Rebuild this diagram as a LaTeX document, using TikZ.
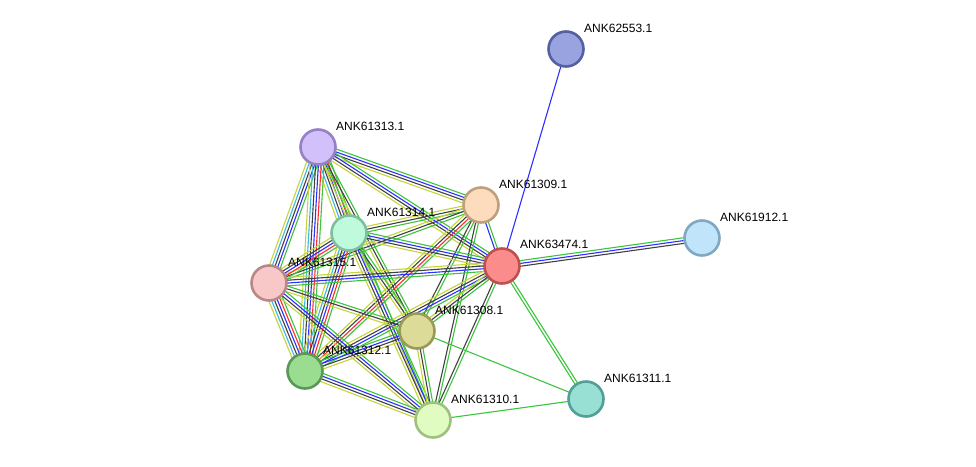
\documentclass[tikz,border=0pt]{standalone}
\usepackage{fontspec}
\setmainfont{Liberation Sans}
\usetikzlibrary{calc}
\pgfdeclarelayer{bg}
\pgfsetlayers{bg,main}
\definecolor{eG}{HTML}{3CC43C}
\definecolor{eR}{HTML}{FF2A2A}
\definecolor{eB}{HTML}{2E2EFF}
\definecolor{eK}{HTML}{404040}
\definecolor{eC}{HTML}{3CB8E0}
\definecolor{eY}{HTML}{C4D43C}
\tikzset{
  prot/.style={circle, minimum size=35pt, inner sep=0pt, line width=2.6pt},
  lbl/.style={anchor=west, inner sep=0pt, font=\fontsize{12}{14}\selectfont, text=black},
  edg/.style={line width=1.1pt}
}
\newcommand\sedge[3]{%
  \foreach \c [count=\i] in {#3}{\xdef\ncount{\i}}%
  \foreach \c [count=\i] in {#3}{%
    \pgfmathsetmacro\off{((\ncount+1)/2-\i)*2.8}%
    \draw[edg, draw=\c] ($(#1.center)!\off pt!90:(#2.center)$) -- ($(#2.center)!\off pt!-90:(#1.center)$);
  }%
}
\begin{document}
\begin{tikzpicture}[x=1pt, y=-1pt]
\useasboundingbox (0,0) rectangle (976,466);
% nodes
\node[prot, fill={rgb,255:red,153;green,163;blue,224}, draw={rgb,255:red,85;green,96;blue,160}] (p53) at (566,49) {};
\node[prot, fill={rgb,255:red,210;green,192;blue,250}, draw={rgb,255:red,150;green,128;blue,200}] (p13) at (318,147) {};
\node[prot, fill={rgb,255:red,253;green,220;blue,190}, draw={rgb,255:red,190;green,160;blue,128}] (p09) at (481,205) {};
\node[prot, fill={rgb,255:red,192;green,250;blue,220}, draw={rgb,255:red,128;green,190;blue,160}] (p14) at (349,233) {};
\node[prot, fill={rgb,255:red,250;green,140;blue,140}, draw={rgb,255:red,190;green,80;blue,80}] (p74) at (502,266) {};
\node[prot, fill={rgb,255:red,192;green,228;blue,250}, draw={rgb,255:red,128;green,168;blue,192}] (p12b) at (702,238) {};
\node[prot, fill={rgb,255:red,248;green,200;blue,200}, draw={rgb,255:red,184;green,136;blue,136}] (p15) at (269,283) {};
\node[prot, fill={rgb,255:red,220;green,220;blue,152}, draw={rgb,255:red,154;green,154;blue,88}] (p08) at (417,331) {};
\node[prot, fill={rgb,255:red,154;green,220;blue,144}, draw={rgb,255:red,90;green,152;blue,90}] (p12) at (305,371) {};
\node[prot, fill={rgb,255:red,152;green,224;blue,212}, draw={rgb,255:red,80;green,160;blue,152}] (p11) at (586,399) {};
\node[prot, fill={rgb,255:red,224;green,252;blue,192}, draw={rgb,255:red,160;green,192;blue,128}] (p10) at (433,420) {};
% labels
\node[lbl] (l53) at (584,28) {ANK62553.1};
\node[lbl] (l13) at (336,126) {ANK61313.1};
\node[lbl] (l09) at (499,184) {ANK61309.1};
\node[lbl] (l14) at (367,212) {ANK61314.1};
\node[lbl] (l74) at (520,244) {ANK63474.1};
\node[lbl] (l12b) at (720,217) {ANK61912.1};
\node[lbl] (l15) at (288,262) {ANK61315.1};
\node[lbl] (l08) at (435,310) {ANK61308.1};
\node[lbl] (l12) at (323,350) {ANK61312.1};
\node[lbl] (l11) at (604,378) {ANK61311.1};
\node[lbl] (l10) at (451,399) {ANK61310.1};
% edges
\begin{pgfonlayer}{bg}
\sedge{p13}{p09}{eG,eB,eK,eY}
\sedge{p13}{p14}{eG,eR,eB,eK,eC,eY}
\sedge{p13}{p74}{eG,eB,eK,eY}
\sedge{p13}{p15}{eG,eB,eK,eC,eY}
\sedge{p13}{p12}{eG,eR,eB,eK,eC,eY}
\sedge{p13}{p08}{eG,eK,eY}
\sedge{p13}{p10}{eG,eY}
\sedge{p09}{p14}{eG,eK,eY}
\sedge{p09}{p74}{eG,eB}
\sedge{p09}{p15}{eG,eK,eY}
\sedge{p09}{p12}{eG,eR,eK,eY}
\sedge{p09}{p08}{eG,eK}
\sedge{p09}{p10}{eG,eK}
\sedge{p14}{p74}{eG,eB,eK,eY}
\sedge{p14}{p15}{eG,eR,eB,eK,eY}
\sedge{p14}{p12}{eG,eR,eB,eK,eC,eY}
\sedge{p14}{p08}{eG,eK,eY}
\sedge{p14}{p10}{eG,eB,eK,eY}
\sedge{p74}{p15}{eG,eB,eK,eY}
\sedge{p74}{p12}{eG,eB,eK,eY}
\sedge{p74}{p08}{eG,eK,eY}
\sedge{p74}{p10}{eG,eK}
\sedge{p15}{p12}{eG,eR,eB,eK,eC,eY}
\sedge{p15}{p08}{eG,eK,eY}
\sedge{p15}{p10}{eG,eB,eK,eY}
\sedge{p12}{p08}{eG,eB,eK,eY}
\sedge{p12}{p10}{eG,eB,eK,eY}
\sedge{p08}{p10}{eG,eK,eY}
\sedge{p74}{p12b}{eG,eB,eK}
\sedge{p74}{p53}{eB}
\sedge{p74}{p11}{eG,eG}
\sedge{p08}{p11}{eG}
\sedge{p10}{p11}{eG}
\end{pgfonlayer}
\end{tikzpicture}
\end{document}
